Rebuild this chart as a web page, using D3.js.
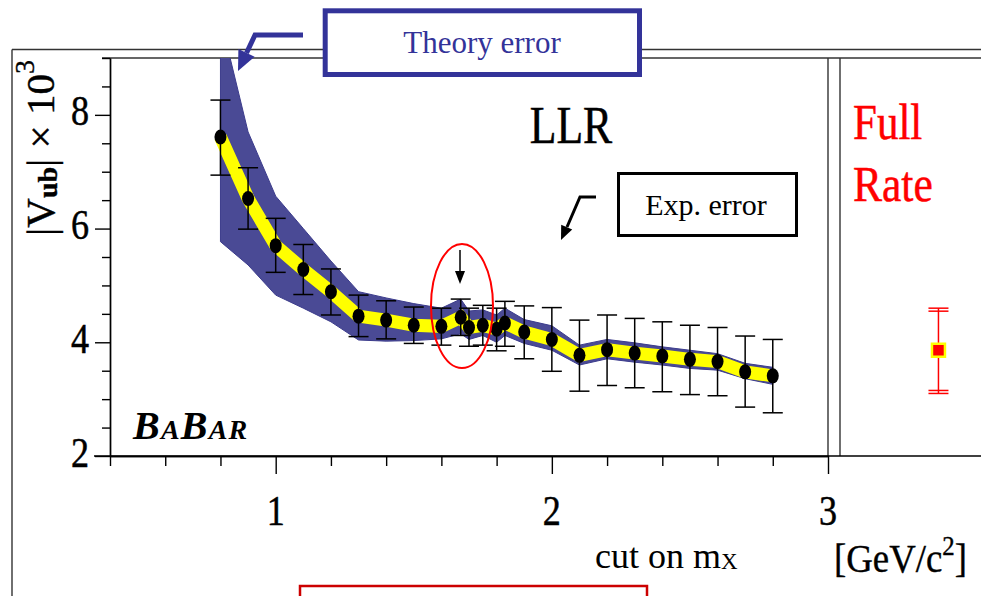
<!DOCTYPE html>
<html>
<head>
<meta charset="utf-8">
<script src="https://cdn.jsdelivr.net/npm/d3@7"></script>
<style>
  html, body { margin: 0; padding: 0; background: #fff; }
  svg { display: block; }
  text { font-family: "Liberation Serif", "Times New Roman", serif; }
</style>
</head>
<body>
<svg id="chart" width="981" height="596"></svg>
<script>
// |Vub| extracted with a cut on the hadronic mass mX (LLR method)
const mxCut   = [0.80, 0.90, 1.00, 1.10, 1.20, 1.30, 1.40, 1.50, 1.60, 1.67, 1.70, 1.75,
                 1.80, 1.83, 1.90, 2.00, 2.10, 2.20, 2.30, 2.40, 2.50, 2.60, 2.70, 2.80];
const vub     = [7.61, 6.53, 5.70, 5.28, 4.89, 4.46, 4.39, 4.30, 4.28, 4.44, 4.26, 4.30,
                 4.23, 4.34, 4.18, 4.05, 3.77, 3.87, 3.81, 3.76, 3.70, 3.66, 3.48, 3.41];
// experimental error bars (upper / lower end)
const expHigh = [8.26, 7.07, 6.18, 5.72, 5.29, 4.83, 4.73, 4.62, 4.60, 4.76, 4.60, 4.65,
                 4.60, 4.72, 4.64, 4.61, 4.39, 4.48, 4.42, 4.36, 4.30, 4.26, 4.11, 4.05];
const expLow  = [6.94, 5.99, 5.23, 4.84, 4.48, 4.10, 4.06, 3.98, 3.95, 4.12, 3.93, 3.95,
                 3.85, 3.93, 3.71, 3.49, 3.14, 3.24, 3.20, 3.13, 3.08, 3.06, 2.86, 2.76];
// theory error band (upper / lower edge)
const thHigh  = [9.70, 7.70, 6.57, 6.00, 5.43, 4.89, 4.78, 4.68, 4.60, 4.76, 4.55, 4.57,
                 4.48, 4.60, 4.40, 4.29, 3.95, 4.05, 3.99, 3.92, 3.86, 3.80, 3.63, 3.56];
const thLow   = [5.77, 5.36, 4.83, 4.60, 4.36, 4.04, 4.02, 4.03, 4.06, 4.15, 4.05, 4.12,
                 4.00, 4.12, 3.98, 3.86, 3.60, 3.71, 3.65, 3.60, 3.54, 3.51, 3.36, 3.26];

// full-rate measurement (no mX cut), shown in the side panel
const fullRateX = [3.40];
const fullRate  = [3.86];
const fullHigh  = [4.60];
const fullLow   = [3.10];

const xMajorTicks = [1, 2, 3];
const xMinorTicks = [0.4, 0.6, 0.8, 1.2, 1.4, 1.6, 1.8, 2.2, 2.4, 2.6, 2.8];
const yMajorTicks = [2, 4, 6, 8];
const yMinorTicks = [2.5, 3, 3.5, 4.5, 5, 5.5, 6.5, 7, 7.5, 8.5, 9];

const svg = d3.select("#chart");
const x = d3.scaleLinear().domain([0.4, 3.0]).range([110, 828]);
const y = d3.scaleLinear().domain([2, 9]).range([456, 58]);

const theoryBlue = "#333399";
const bandBlue = "#4a4a95";

const points = mxCut.map((m, i) => ({
  m, v: vub[i], hi: expHigh[i], lo: expLow[i], th: thHigh[i], tl: thLow[i]
}));

// ---- frame lines ----
const frame = svg.append("g").attr("stroke", "#333").attr("stroke-width", 1.4).attr("fill", "none");
frame.append("line").attr("x1", 12).attr("x2", 981).attr("y1", 49.5).attr("y2", 49.5);
frame.append("line").attr("x1", 12).attr("x2", 12).attr("y1", 49.5).attr("y2", 596);
frame.append("line").attr("x1", 102).attr("x2", 981).attr("y1", y(9)).attr("y2", y(9));
frame.append("line").attr("x1", x(3)).attr("x2", x(3)).attr("y1", y(9)).attr("y2", y(2));
frame.append("line").attr("x1", 840).attr("x2", 840).attr("y1", y(9)).attr("y2", y(2));

// ---- axes ----
const axisStyle = g => {
  g.selectAll("path, line").attr("stroke", "#000").attr("stroke-width", 1.4);
  g.selectAll("text").remove();
};
svg.append("g").attr("transform", `translate(${x(0.4)},0)`)
  .call(d3.axisLeft(y).tickValues(yMinorTicks).tickSize(8).tickSizeOuter(0))
  .call(axisStyle);
svg.append("g").attr("transform", `translate(${x(0.4)},0)`)
  .call(d3.axisLeft(y).tickValues(yMajorTicks).tickSize(15).tickSizeOuter(0))
  .call(axisStyle);
svg.append("g").attr("transform", `translate(0,${y(2)})`)
  .call(d3.axisBottom(x).tickValues(xMinorTicks).tickSize(10).tickSizeOuter(0))
  .call(axisStyle);
svg.append("g").attr("transform", `translate(0,${y(2)})`)
  .call(d3.axisBottom(x).tickValues(xMajorTicks).tickSize(18).tickSizeOuter(0))
  .call(axisStyle);
// baseline continues under the side panel
svg.append("line").attr("x1", 94).attr("x2", 981).attr("y1", y(2)).attr("y2", y(2))
  .attr("stroke", "#000").attr("stroke-width", 1.4);

// condensed serif text helper
function label(g, tx, ty, str, size, sx, anchor, color) {
  const c = color || "#000";
  return g.append("text")
    .attr("transform", `translate(${tx},${ty}) scale(${sx},1)`)
    .attr("text-anchor", anchor)
    .attr("font-size", size)
    .attr("fill", c)
    .attr("stroke", c).attr("stroke-width", 0.5)
    .text(str);
}

yMajorTicks.forEach(t => label(svg, 89, y(t) + 10.5, String(t), 42, 0.86, "end"));
xMajorTicks.forEach(t => label(svg, x(t), 525, String(t), 42, 0.86, "middle"));

// y-axis title |Vub| x 10^3
const yt = svg.append("text")
  .attr("transform", "translate(54,148) rotate(-90)")
  .attr("text-anchor", "middle")
  .attr("font-size", 41)
  .attr("stroke", "#000").attr("stroke-width", 0.4);
yt.append("tspan").text("|V");
yt.append("tspan").attr("font-size", 28).attr("font-weight", "bold").attr("dy", 3).text("ub");
yt.append("tspan").attr("dy", -3).text("| × 10");
yt.append("tspan").attr("font-size", 28).attr("dy", -20).text("3");

// x-axis title
const xt = svg.append("text").attr("x", 595).attr("y", 568).attr("font-size", 36);
xt.append("tspan").text("cut on m");
xt.append("tspan").attr("font-size", 23).attr("dy", 1).text("X");

const ut = svg.append("text")
  .attr("transform", "translate(834,572) scale(0.92,1)")
  .attr("font-size", 40)
  .attr("stroke", "#000").attr("stroke-width", 0.4);
ut.append("tspan").text("[GeV/c");
ut.append("tspan").attr("font-size", 27).attr("dy", -17).text("2");
ut.append("tspan").attr("dy", 17).text("]");

// ---- plot area ----
svg.append("clipPath").attr("id", "plotClip")
  .append("rect").attr("x", x(0.4)).attr("y", y(9)).attr("width", x(3) - x(0.4)).attr("height", y(2) - y(9));
const plot = svg.append("g").attr("clip-path", "url(#plotClip)");

// theory error band
plot.append("path").datum(points)
  .attr("fill", bandBlue)
  .attr("stroke", "#3c3c8c").attr("stroke-width", 1)
  .attr("d", d3.area().x(d => x(d.m)).y0(d => y(d.tl)).y1(d => y(d.th)));

// central value line
plot.append("path").datum(points)
  .attr("fill", "none").attr("stroke", "#ffff00").attr("stroke-width", 13)
  .attr("stroke-linejoin", "miter")
  .attr("d", d3.line().x(d => x(d.m)).y(d => y(d.v)));

// experimental error bars
const eb = plot.append("g").attr("stroke", "#000").attr("stroke-width", 1.5);
eb.selectAll("line.v").data(points).join("line")
  .attr("x1", d => x(d.m)).attr("x2", d => x(d.m))
  .attr("y1", d => y(d.hi)).attr("y2", d => y(d.lo));
eb.selectAll("line.ct").data(points).join("line")
  .attr("x1", d => x(d.m) - 10).attr("x2", d => x(d.m) + 10)
  .attr("y1", d => y(d.hi)).attr("y2", d => y(d.hi));
eb.selectAll("line.cb").data(points).join("line")
  .attr("x1", d => x(d.m) - 10).attr("x2", d => x(d.m) + 10)
  .attr("y1", d => y(d.lo)).attr("y2", d => y(d.lo));

// measured points
plot.selectAll("ellipse.pt").data(points).join("ellipse")
  .attr("cx", d => x(d.m)).attr("cy", d => y(d.v))
  .attr("rx", 6).attr("ry", 7.5).attr("fill", "#000");

// ---- full rate panel ----
const fr = svg.append("g");
fullRate.forEach((v, i) => {
  const cx = x(fullRateX[i]);
  const g = fr.append("g").attr("stroke", "#ff0000").attr("stroke-width", 1.5);
  g.append("line").attr("x1", cx).attr("x2", cx).attr("y1", y(fullHigh[i])).attr("y2", y(fullLow[i]));
  [y(fullHigh[i]), y(fullHigh[i]) + 3, y(fullLow[i]), y(fullLow[i]) - 3].forEach(yy =>
    g.append("line").attr("x1", cx - 10).attr("x2", cx + 10).attr("y1", yy).attr("y2", yy));
  fr.append("rect").attr("x", cx - 6.5).attr("y", y(v) - 6.5).attr("width", 13).attr("height", 13)
    .attr("fill", "#ff0000").attr("stroke", "#ffff00").attr("stroke-width", 2.5);
});
label(svg, 853, 139, "Full", 50, 0.86, "start", "#ff0000");
label(svg, 853, 201, "Rate", 50, 0.87, "start", "#ff0000");

// ---- annotations ----
label(svg, 571, 143, "LLR", 52, 0.84, "middle");

const bb = svg.append("text").attr("x", 133).attr("y", 439)
  .attr("font-weight", "bold").attr("font-style", "italic").attr("font-size", 40)
  .attr("letter-spacing", 1.2);
bb.append("tspan").text("B");
bb.append("tspan").attr("font-size", 28).text("A");
bb.append("tspan").text("B");
bb.append("tspan").attr("font-size", 28).text("AR");

// theory error callout
svg.append("rect").attr("x", 325.2).attr("y", 10.8).attr("width", 314.3).attr("height", 63.7)
  .attr("fill", "#fff").attr("stroke", theoryBlue).attr("stroke-width", 5);
svg.append("text").attr("x", 482).attr("y", 53).attr("text-anchor", "middle")
  .attr("font-size", 31).attr("fill", theoryBlue).text("Theory error");
svg.append("path").attr("d", "M303,35 L255,35 L246.5,53")
  .attr("fill", "none").attr("stroke", theoryBlue).attr("stroke-width", 5);
svg.append("path").attr("d", "M238,71 L254.6,56.7 L238.4,49.1 Z").attr("fill", theoryBlue);

// experimental error callout
svg.append("rect").attr("x", 618.5).attr("y", 173.5).attr("width", 178).attr("height", 62)
  .attr("fill", "#fff").attr("stroke", "#000").attr("stroke-width", 3);
svg.append("text").attr("x", 706).attr("y", 215).attr("text-anchor", "middle")
  .attr("font-size", 30).text("Exp. error");
svg.append("path").attr("d", "M596,197 L580,197 L567,227")
  .attr("fill", "none").attr("stroke", "#000").attr("stroke-width", 3);
svg.append("path").attr("d", "M561,240 L572.2,229.6 L561.2,224.8 Z").attr("fill", "#000");

// highlighted point near mX = 1.67
svg.append("ellipse").attr("cx", 462).attr("cy", 306).attr("rx", 31).attr("ry", 62)
  .attr("fill", "none").attr("stroke", "#ff0000").attr("stroke-width", 2);
svg.append("line").attr("x1", 460).attr("x2", 460).attr("y1", 250).attr("y2", 273)
  .attr("stroke", "#000").attr("stroke-width", 1.5);
svg.append("path").attr("d", "M460,284 L455,271 L465,271 Z").attr("fill", "#000");

// bottom caption frame
svg.append("rect").attr("x", 300).attr("y", 586).attr("width", 347).attr("height", 30)
  .attr("fill", "none").attr("stroke", "#cc0000").attr("stroke-width", 2.5);
</script>
</body>
</html>
